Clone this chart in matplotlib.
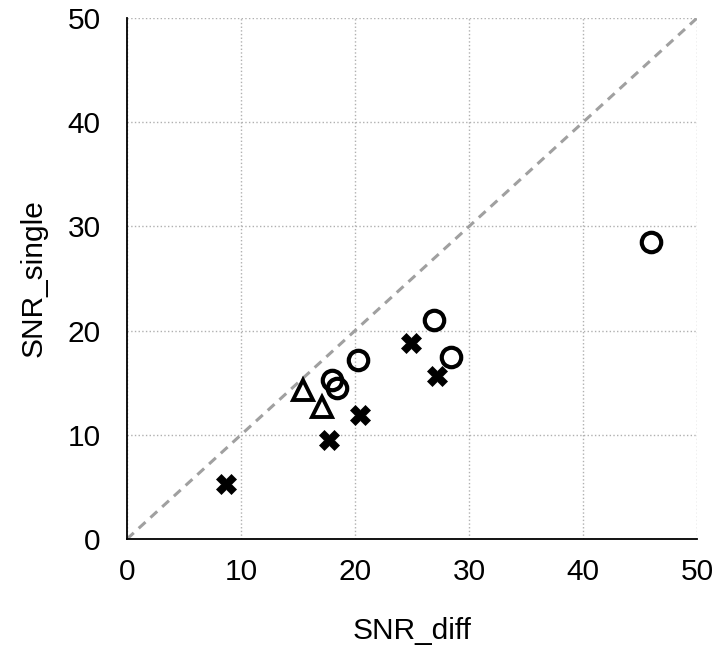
import numpy as np
import matplotlib.pyplot as plt

plt.rcParams['font.family'] = ['Liberation Sans', 'DejaVu Sans']

# circles
circ_x = [46.0, 26.9, 28.4, 20.3, 17.95, 18.4]
circ_y = [28.5, 21.0, 17.5, 17.2, 15.3, 14.5]
# crosses
cross_x = [8.7, 17.7, 20.4, 24.9, 27.2]
cross_y = [5.3, 9.5, 11.9, 18.8, 15.6]
# triangles
tri_x = [15.4, 17.1]
tri_y = [14.3, 12.7]

ticks = [0, 10, 20, 30, 40, 50]

fig = plt.figure(figsize=(7.19, 6.46), dpi=100)
ax = fig.add_axes([0.1766, 0.1656, 0.7928, 0.8064])

ax.plot([0, 50], [0, 50], '--', color='#a0a0a0', lw=2.2, dashes=(3, 2.2), zorder=1)
ax.plot(circ_x, circ_y, 'o', ms=14, mfc='none', mec='black', mew=3, zorder=3)
ax.plot(tri_x, tri_y, '^', ms=15, mfc='none', mec='black', mew=2.8, zorder=3)
ax.plot(cross_x, cross_y, 'X', ms=15, mfc='black', mec='black', mew=0.5, zorder=3)

ax.set_xlim(0, 50)
ax.set_ylim(0, 50)
ax.set_xticks(ticks)
ax.set_yticks(ticks)
ax.grid(True, ls=':', color='#b0b0b0', lw=1)
ax.set_axisbelow(True)
for s in ['top', 'right']:
    ax.spines[s].set_visible(False)
ax.spines['left'].set_linewidth(1.3)
ax.spines['bottom'].set_linewidth(1.3)
ax.tick_params(axis='both', length=0, labelsize=21.5)
ax.tick_params(axis='y', pad=19)
ax.tick_params(axis='x', pad=14)
ax.set_xlabel('SNR_diff', fontsize=21.5, labelpad=22)
ax.set_ylabel('SNR_single', fontsize=21.5, labelpad=14)

plt.savefig('out.png')
